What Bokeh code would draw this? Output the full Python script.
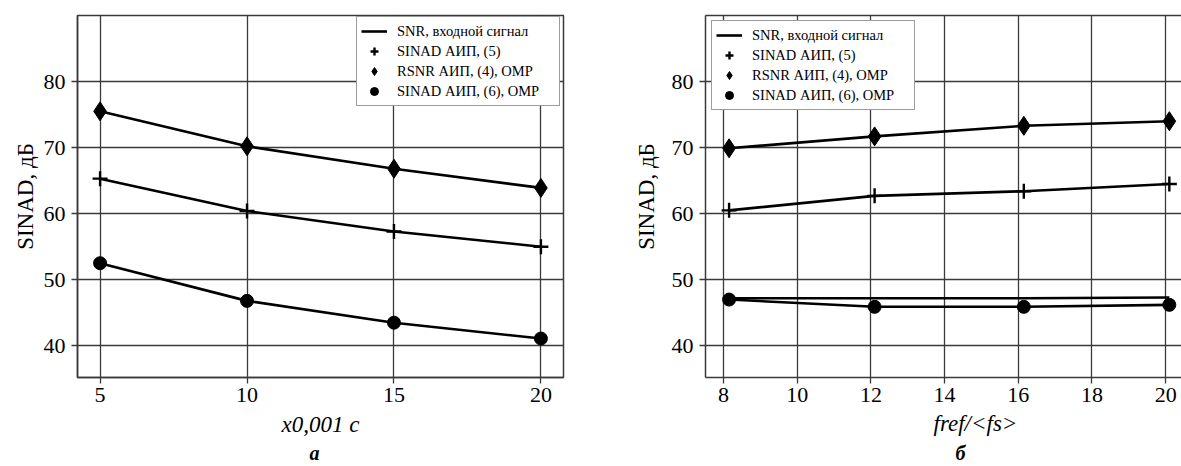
from bokeh.plotting import figure
from bokeh.models import Range1d, FixedTicker, Legend, LegendItem, LinearAxis, Title
from bokeh.layouts import row
from bokeh.embed import file_html
from bokeh.resources import INLINE

# ---------------- data ----------------
# panel "а"
a_x = [5, 10, 15, 20]
a_rsnr = [75.5, 70.2, 66.8, 63.9]
a_sinad5 = [65.3, 60.4, 57.3, 55.0]
a_sinad6 = [52.5, 46.8, 43.5, 41.1]
a_xticks = [5, 10, 15, 20]

# panel "б"
b_x = [8.15, 12.1, 16.15, 20.1]
b_snr = [47.2, 47.2, 47.2, 47.3]
b_rsnr = [69.9, 71.7, 73.3, 74.0]
b_sinad5 = [60.5, 62.7, 63.4, 64.5]
b_sinad6 = [47.0, 45.9, 45.9, 46.2]
b_xticks = [8, 10, 12, 14, 16, 18, 20]

yticks = [40, 50, 60, 70, 80]
legend_labels = ["SNR, входной сигнал", "SINAD АИП, (5)",
                 "RSNR АИП, (4), OMP", "SINAD АИП, (6), OMP"]
y_label = "SINAD, дБ"
a_xlabel = "x0,001 с"
b_xlabel = "fref/<fs>"
a_caption = "а"
b_caption = "б"

SERIF = "Liberation Serif"
GRID = "#3a3a3a"


def style(p, xticks, ylab_standoff):
    p.background_fill_color = "white"
    p.border_fill_color = "white"
    p.outline_line_color = GRID
    p.outline_line_width = 1.5
    for ax in p.xaxis + p.yaxis:
        ax.major_label_text_font = SERIF
        ax.major_label_text_font_size = "22px"
        ax.major_label_text_color = "black"
        ax.axis_line_color = GRID
        ax.axis_line_width = 1.5
        ax.major_tick_line_color = GRID
        ax.major_tick_line_width = 1.3
        ax.major_tick_in = 0
        ax.major_tick_out = 6
        ax.minor_tick_line_color = None
        ax.axis_label_text_font = SERIF
        ax.axis_label_text_color = "black"
    p.xaxis.ticker = FixedTicker(ticks=xticks)
    p.yaxis.ticker = FixedTicker(ticks=yticks)
    p.xaxis.major_label_standoff = 4
    p.yaxis.major_label_standoff = 6
    p.yaxis.axis_label = y_label
    p.yaxis.axis_label_text_font_size = "23px"
    p.yaxis.axis_label_text_font_style = "normal"
    p.yaxis.axis_label_standoff = ylab_standoff
    p.xgrid.ticker = FixedTicker(ticks=xticks)
    p.ygrid.ticker = FixedTicker(ticks=yticks)
    for g in (p.xgrid, p.ygrid):
        g.grid_line_color = GRID
        g.grid_line_width = 1.3
        g.grid_line_alpha = 1.0


def draw(p, x, rsnr, s5, s6, snr):
    if snr is not None:
        snr_r = p.line(x, snr, line_color="black", line_width=2.6)
    else:
        snr_r = p.line([float("nan")], [float("nan")], line_color="black", line_width=2.6)
    p.line(x, rsnr, line_color="black", line_width=2.6)
    p.line(x, s5, line_color="black", line_width=2.6)
    p.line(x, s6, line_color="black", line_width=2.6)
    r_rs = p.scatter(x, rsnr, marker="diamond", size=19, color="black")
    r_s5 = p.scatter(x, s5, marker="cross", size=15, line_color="black", line_width=2.4)
    r_s6 = p.scatter(x, s6, marker="circle", size=13, color="black")
    return [snr_r, r_s5, r_rs, r_s6]


def add_legend(p, rends, loc):
    items = [LegendItem(label=l, renderers=[r]) for l, r in zip(legend_labels, rends)]
    lg = Legend(items=items, location=loc, margin=0, padding=4, spacing=0,
                label_height=20, glyph_height=20, glyph_width=26, label_standoff=10,
                label_width=158,
                label_text_font=SERIF, label_text_font_size="14.5px",
                label_text_color="black",
                border_line_color=GRID, border_line_width=1.2,
                background_fill_color="white", background_fill_alpha=1.0)
    p.add_layout(lg)


def caption(p, text, offset, size, style_, standoff):
    t = Title(text=text, align="left", offset=offset, text_font=SERIF,
              text_font_size=size, text_font_style=style_, text_color="black",
              standoff=standoff)
    p.add_layout(t, "below")


# ---------------- panel а ----------------
p1 = figure(width=600, height=466, x_range=Range1d(4.232, 20.768),
            y_range=Range1d(35.2, 90.0), output_backend="svg", toolbar_location=None,
            min_border_left=77, min_border_right=37, min_border_top=15,
            min_border_bottom=89)
style(p1, a_xticks, 3)
p1.xaxis.axis_label = a_xlabel
p1.xaxis.axis_label_text_font_size = "23px"
p1.xaxis.axis_label_text_font_style = "italic"
p1.xaxis.axis_label_standoff = 7
r1 = draw(p1, a_x, a_rsnr, a_sinad5, a_sinad6, None)
add_legend(p1, r1, (279, 271))
caption(p1, a_caption, 232, "20px", "bold italic", 0)

# ---------------- panel б ----------------
p2 = figure(width=581, height=466, x_range=Range1d(7.51, 20.43),
            y_range=Range1d(35.2, 90.0), output_backend="svg", toolbar_location=None,
            min_border_left=105, min_border_right=0, min_border_top=15,
            min_border_bottom=89)
style(p2, b_xticks, 10)
p2.outline_line_color = None
top_ax = LinearAxis(ticker=FixedTicker(ticks=[]), major_tick_in=0, major_tick_out=0,
                    minor_tick_line_color=None, axis_line_color=GRID, axis_line_width=1.5,
                    major_label_standoff=0)
p2.add_layout(top_ax, "above")
r2 = draw(p2, b_x, b_rsnr, b_sinad5, b_sinad6, b_snr)
add_legend(p2, r2, (6, 267))
caption(p2, b_xlabel, 228, "23px", "italic", 8)
caption(p2, b_caption, 250, "20px", "bold italic", 0)

layout = row(p1, p2)
open("out.html", "w").write(file_html(layout, INLINE))
